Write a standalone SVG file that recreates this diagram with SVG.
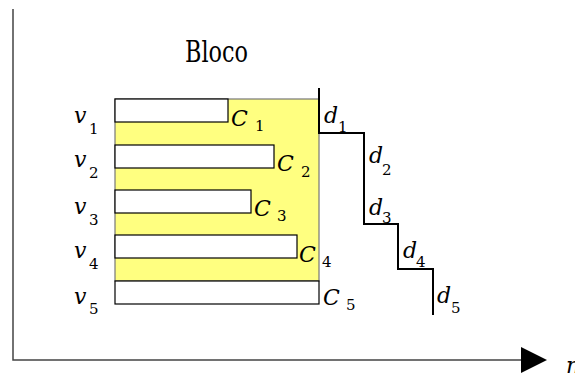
<svg xmlns="http://www.w3.org/2000/svg" width="575" height="376" viewBox="0 0 575 376">
  <style>
    .axis { stroke: #444; stroke-width: 1.5; fill: none; }
    .bar { fill: #ffffff; stroke: #000; stroke-width: 1.2; }
    .step { stroke: #000; stroke-width: 2; fill: none; }
    text { fill: #000; font-family: "DejaVu Serif", "Liberation Serif", serif; }
    .it { font-style: italic; font-size: 22px; }
    .sub { font-size: 15px; }
    .title { font-size: 30px; }
  </style>

  <!-- axes -->
  <g id="axes">
    <path class="axis" d="M13 9 V360 H521"/>
    <polygon points="521,347 547,360 521,373" fill="#000"/>
    <text class="it" x="566" y="373">n</text>
  </g>

  <g id="title">
    <text class="title" x="185" y="62" textLength="63" lengthAdjust="spacingAndGlyphs">Bloco</text>
  </g>

  <!-- block area -->
  <g id="block">
    <rect x="115" y="99" width="204" height="182" fill="#ffff80" stroke="#777" stroke-width="1.2"/>
  </g>

  <!-- rows: bar, v label and C label -->
  <g id="row1">
    <rect class="bar" x="115" y="99" width="113" height="23"/>
    <text class="it" x="74" y="123">v</text><text class="sub" x="89" y="134">1</text>
    <text class="it" x="231" y="126">C</text><text class="sub" x="255" y="131">1</text>
  </g>
  <g id="row2">
    <rect class="bar" x="115" y="145" width="159" height="23"/>
    <text class="it" x="74" y="167">v</text><text class="sub" x="89" y="178">2</text>
    <text class="it" x="277" y="171">C</text><text class="sub" x="301" y="177">2</text>
  </g>
  <g id="row3">
    <rect class="bar" x="115" y="190" width="136" height="23"/>
    <text class="it" x="74" y="214">v</text><text class="sub" x="89" y="225">3</text>
    <text class="it" x="254" y="216">C</text><text class="sub" x="277" y="221">3</text>
  </g>
  <g id="row4">
    <rect class="bar" x="115" y="235" width="182" height="23"/>
    <text class="it" x="74" y="258">v</text><text class="sub" x="89" y="269">4</text>
    <text class="it" x="299" y="262">C</text><text class="sub" x="322" y="267">4</text>
  </g>
  <g id="row5">
    <rect class="bar" x="115" y="281" width="204" height="23"/>
    <text class="it" x="74" y="304">v</text><text class="sub" x="89" y="314">5</text>
    <text class="it" x="323" y="305">C</text><text class="sub" x="346" y="310">5</text>
  </g>

  <!-- staircase of deadlines -->
  <g id="connectors">
    <path class="step" d="M319 88 V133 H364 V224 H398 V269 H433 V315"/>
  </g>
  <g id="deadlines">
    <text class="it" x="324" y="123">d</text><text class="sub" x="338" y="132">1</text>
    <text class="it" x="369" y="163">d</text><text class="sub" x="382" y="175">2</text>
    <text class="it" x="369" y="215">d</text><text class="sub" x="382" y="223">3</text>
    <text class="it" x="403" y="258">d</text><text class="sub" x="416" y="267">4</text>
    <text class="it" x="437" y="303">d</text><text class="sub" x="451" y="313">5</text>
  </g>
</svg>
